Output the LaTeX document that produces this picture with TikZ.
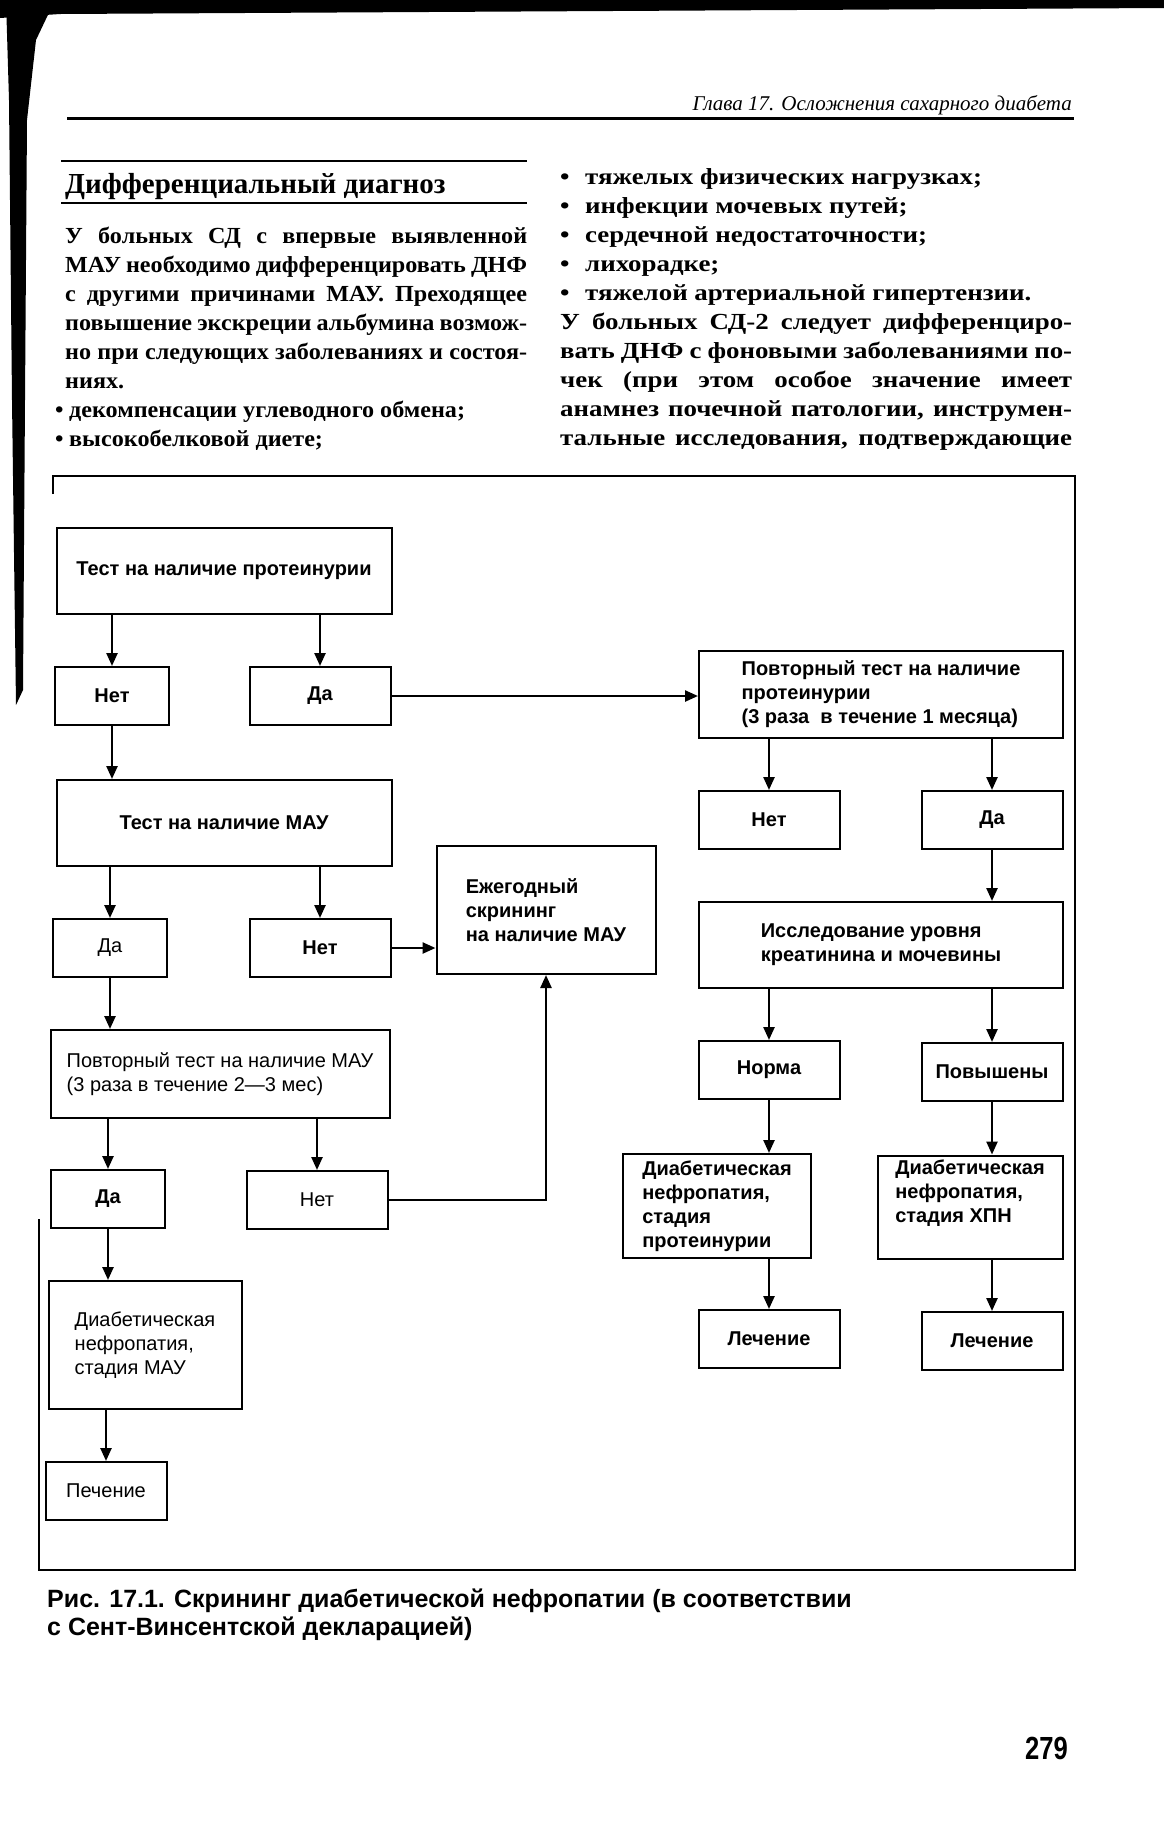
\documentclass[tikz,border=0pt]{standalone}
\usepackage{fontspec}
\setmainfont{Liberation Serif}
\setsansfont{Liberation Sans}
\newfontfamily\narrowsans{Liberation Sans}[FakeStretch=0.8]
\newfontfamily\leftserif{Liberation Serif}[FakeStretch=1.05]
\newfontfamily\rightserif{Liberation Serif}[FakeStretch=1.17]
\usetikzlibrary{arrows.meta}

\tikzset{
  box/.style={draw, line width=2pt, align=left, inner sep=0pt,
    font=\sffamily\fontsize{20}{24}\selectfont},
  bbox/.style={box, font=\sffamily\bfseries\fontsize{20}{24}\selectfont},
  sbox/.style={minimum width=141pt, minimum height=58pt},
  tbox/.style={minimum width=114pt, minimum height=58pt},
  wbox/.style={minimum width=335pt, minimum height=86pt},
  arr/.style={line width=2.4pt, -{Triangle[length=13pt,width=11pt]}},
  txt/.style={anchor=base west, inner sep=0pt, font=\leftserif\bfseries\fontsize{23}{28}\selectfont},
  rtxt/.style={txt, font=\rightserif\bfseries\fontsize{23}{28}\selectfont},
  captxt/.style={anchor=base west, inner sep=0pt, font=\sffamily\bfseries\fontsize{25}{29}\selectfont}
}

\begin{document}
\begin{tikzpicture}[x=1pt,y=-1pt]
\useasboundingbox (0,0) rectangle (1164,1848);

\fill (0,0) -- (1164,0) -- (1164,8) -- (60,14) -- (0,18) -- cycle;
\fill (6,0) -- (55,0) -- (36,40) -- (27,120) -- (25,400) -- (23,690) -- (16,705) -- (12,400) -- (9,100) -- cycle;

\node[anchor=base east, inner sep=0pt, font=\itshape\fontsize{21}{25}\selectfont] (head) at (1072,110) {Глава 17. Осложнения сахарного диабета};
\draw[line width=3pt] (67,118) -- (1074,118);

\draw[line width=2pt] (61,161) -- (527,161);
\draw[line width=2pt] (61,203) -- (527,203);
\node[txt, font=\bfseries\fontsize{29}{34}\selectfont] (title) at (65,193) {Дифференциальный диагноз};

\foreach \row [count=\k from 0] in {{У больных СД с впервые выявленной},{МАУ необходимо дифференцировать ДНФ},{с другими причинами МАУ. Преходящее},{повышение экскреции альбумина возмож-},{но при следующих заболеваниях и состоя-}}
  \node[txt] (lc\k) at (65,{243+29*\k}) {\makebox[462pt][s]{\row}};
\node[txt] (lc5) at (65,388) {ниях.};
\foreach \row [count=\k from 6] in {{декомпенсации углеводного обмена;},{высокобелковой диете;}}
  \node[txt] (lc\k) at (55,{243+29*\k}) {\makebox[14pt][l]{\textbullet}\row};

\foreach \row [count=\k from 0] in {{тяжелых физических нагрузках;},{инфекции мочевых путей;},{сердечной недостаточности;},{лихорадке;},{тяжелой артериальной гипертензии.}}
  \node[rtxt] (rb\k) at (560,{184+29*\k}) {\makebox[25pt][l]{\textbullet}\row};
\foreach \row [count=\k from 5] in {{У больных СД-2 следует дифференциро-},{вать ДНФ с фоновыми заболеваниями по-},{чек (при этом особое значение имеет},{анамнез почечной патологии, инструмен-},{тальные исследования, подтверждающие}}
  \node[rtxt] (rc\k) at (560,{184+29*\k}) {\makebox[512pt][s]{\row}};

\draw[line width=2pt] (53,494) -- (53,476) -- (1075,476) -- (1075,1570) -- (39,1570) -- (39,1219);

\node[bbox, wbox] (prot) at (224,571) {Тест на наличие протеинурии};
\node[bbox, tbox] (pnet) at (112,696) {Нет};
\node[bbox, sbox] (pda) at (320,696) {Да};
\node[bbox, minimum width=364pt, minimum height=87pt] (rprot) at (881,694) {Повторный тест на наличие\\протеинурии\\(3 раза \ в течение 1 месяца)};
\node[bbox, wbox] (mau) at (224,823) {Тест на наличие МАУ};
\node[box, tbox] (mda) at (110,948) {Да};
\node[bbox, sbox] (mnet) at (320,948) {Нет};
\node[bbox, minimum width=219pt, minimum height=128pt] (year) at (546,910) {Ежегодный\\скрининг\\на наличие МАУ};
\node[box, minimum width=339pt, minimum height=88pt] (rmau) at (220,1074) {Повторный тест на наличие МАУ\\(3 раза в течение 2—3 мес)};
\node[bbox, tbox] (rda) at (108,1199) {Да};
\node[box, sbox] (rnet) at (317,1200) {Нет};
\node[box, minimum width=193pt, minimum height=128pt] (dmau) at (145,1345) {Диабетическая\\нефропатия,\\стадия МАУ};
\node[box, minimum width=121pt, minimum height=58pt] (tmau) at (106,1491) {Печение};

\node[bbox, sbox] (pnet2) at (769,820) {Нет};
\node[bbox, sbox] (pda2) at (992,820) {Да};
\node[bbox, minimum width=364pt, minimum height=86pt] (kreat) at (881,945) {Исследование уровня\\креатинина и мочевины};
\node[bbox, sbox] (norm) at (769,1070) {Норма};
\node[bbox, sbox] (high) at (992,1072) {Повышены};
\node[bbox, minimum width=188pt, minimum height=104pt] (dprot) at (717,1206) {Диабетическая\\нефропатия,\\стадия\\протеинурии};
\node[bbox, minimum width=185pt, minimum height=103pt] (dhpn) at (970,1207) {Диабетическая\\нефропатия,\\стадия ХПН\\\strut};
\node[bbox, sbox] (tprot) at (769,1339) {Лечение};
\node[bbox, sbox] (thpn) at (992,1341) {Лечение};

\draw[arr] (prot.south -| pnet) -- (pnet);
\draw[arr] (prot.south -| pda) -- (pda);
\draw[arr] (pda.east) -- (pda.east -| rprot.west);
\draw[arr] (pnet) -- (mau.north -| pnet);
\draw[arr] (mau.south -| mda) -- (mda);
\draw[arr] (mau.south -| mnet) -- (mnet);
\draw[arr] (mnet.east) -- (mnet.east -| year.west);
\draw[arr] (mda) -- (rmau.north -| mda);
\draw[arr] (rmau.south -| rda) -- (rda);
\draw[arr] (rmau.south -| rnet) -- (rnet);
\draw[arr] (rnet.east) -| (year.south);
\draw[arr] (rda) -- (dmau.north -| rda);
\draw[arr] (dmau.south -| tmau) -- (tmau);
\draw[arr] (rprot.south -| pnet2) -- (pnet2);
\draw[arr] (rprot.south -| pda2) -- (pda2);
\draw[arr] (pda2) -- (kreat.north -| pda2);
\draw[arr] (kreat.south -| norm) -- (norm);
\draw[arr] (kreat.south -| high) -- (high);
\draw[arr] (norm) -- (dprot.north -| norm);
\draw[arr] (high) -- (dhpn.north -| high);
\draw[arr] (dprot.south -| tprot) -- (tprot);
\draw[arr] (dhpn.south -| thpn) -- (thpn);

\node[captxt] (cap1) at (47,1607) {Рис. 17.1. Скрининг диабетической нефропатии (в соответствии};
\node[captxt] (cap2) at (47,1635) {с Сент-Винсентской декларацией)};
\node[anchor=base east, inner sep=0pt, font=\narrowsans\bfseries\fontsize{32}{36}\selectfont] (page) at (1068,1759) {279};
\end{tikzpicture}
\end{document}
